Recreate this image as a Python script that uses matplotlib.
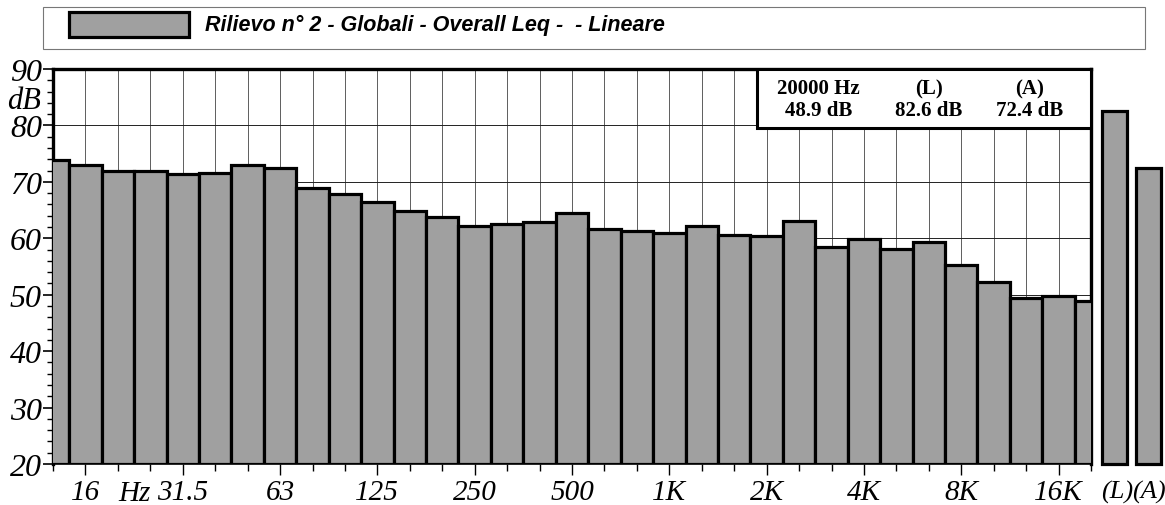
import numpy as np
import matplotlib
matplotlib.use("Agg")
import matplotlib.pyplot as plt
from matplotlib.patches import Rectangle

# third-octave bands 12.5 Hz .. 20 kHz, levels in dB
bands = ["12.5", "16", "20", "25", "31.5", "40", "50", "63", "80", "100",
         "125", "160", "200", "250", "315", "400", "500", "630", "800", "1K",
         "1.25K", "1.6K", "2K", "2.5K", "3.15K", "4K", "5K", "6.3K", "8K", "10K",
         "12.5K", "16K", "20K"]
levels = [73.9, 73.0, 72.0, 72.0, 71.4, 71.6, 73.0, 72.4, 69.0, 67.8,
          66.5, 64.8, 63.8, 62.2, 62.5, 62.9, 64.4, 61.6, 61.3, 60.9,
          62.1, 60.6, 60.4, 63.0, 58.4, 59.9, 58.1, 59.4, 55.3, 52.2,
          49.5, 49.8, 48.9]
totals_labels = ["(L)", "(A)"]
totals = [82.6, 72.4]

tick_labels = ["16", "31.5", "63", "125", "250", "500", "1K", "2K", "4K", "8K", "16K"]
title = "Rilievo n\u00b0 2 - Globali - Overall Leq -  - Lineare"

W, H = 1165, 506
fig = plt.figure(figsize=(W / 100, H / 100), dpi=100)
fig.patch.set_facecolor("white")

# axes in pixel coordinates
x0, x1, ytop, ybot = 53, 1091, 70, 465
ax = fig.add_axes([x0 / W, 1 - ybot / H, (x1 - x0) / W, (ybot - ytop) / H])

barcolor = "#a0a0a0"
serif = "Liberation Serif"

x = np.arange(len(levels))
ax.bar(x, np.array(levels) - 20, width=1.0, bottom=20, color=barcolor,
       edgecolor="black", linewidth=2.3, zorder=3)

# totals, drawn right of the spectrum
tx = [32.72, 33.78]
ax.bar(tx, np.array(totals) - 20, width=0.78, bottom=20, color=barcolor,
       edgecolor="black", linewidth=2.3, zorder=3, clip_on=False)

ax.set_xlim(0, 32)
ax.set_ylim(20, 90)

# grid
for xi in range(1, 32):
    ax.axvline(xi, color="#444444", lw=0.6, zorder=1)
for yi in range(30, 90, 10):
    ax.axhline(yi, color="#222222", lw=0.7, zorder=1)

for side in ["left", "top", "right"]:
    ax.spines[side].set_linewidth(2.4)
ax.spines["bottom"].set_linewidth(1.2)

# y ticks
ax.set_yticks(np.arange(20, 91, 10))
ax.set_yticks(np.arange(20, 91, 2), minor=True)
ylabels = [str(v) for v in range(20, 91, 10)]
ax.set_yticklabels(ylabels, fontfamily=serif, fontstyle="italic", fontsize=23)
ax.tick_params(axis="y", which="major", length=7, width=1.2, pad=1)
ax.tick_params(axis="y", which="minor", length=4, width=1)
ax.text(-0.012, 84.5, "dB", transform=ax.get_yaxis_transform(), ha="right",
        va="center", fontfamily=serif, fontstyle="italic", fontsize=22)

# x ticks
ax.set_xticks([1, 4, 7, 10, 13, 16, 19, 22, 25, 28, 31])
ax.set_xticklabels(tick_labels, fontfamily=serif, fontstyle="italic", fontsize=21)
ax.set_xticks(np.arange(0, 33), minor=True)
ax.tick_params(axis="x", which="major", length=8, width=1, pad=3)
ax.tick_params(axis="x", which="minor", length=5, width=1)
xtrans = ax.get_xaxis_transform()
ax.text(2.5, -0.04, "Hz", transform=xtrans, ha="center", va="top",
        fontfamily=serif, fontstyle="italic", fontsize=21)
for xt, lab in zip([32.8, 33.78], totals_labels):
    ax.text(xt, -0.04, lab, transform=xtrans, ha="center", va="top",
            fontfamily=serif, fontstyle="italic", fontsize=19, clip_on=False)

# info box
bx0 = 21.7
ax.add_patch(Rectangle((bx0, 79.6), 32 - bx0, 10.4, facecolor="white",
                       edgecolor="black", lw=2.2, zorder=5))
info = [("20000 Hz", "%.1f dB" % levels[-1], 23.6),
        ("(L)", "%.1f dB" % totals[0], 27.0),
        ("(A)", "%.1f dB" % totals[1], 30.1)]
for head, val, xc in info:
    ax.text(xc, 86.6, head, ha="center", va="center", fontfamily=serif,
            fontweight="bold", fontsize=15, zorder=6)
    ax.text(xc, 82.7, val, ha="center", va="center", fontfamily=serif,
            fontweight="bold", fontsize=15, zorder=6)

# legend strip at top
fig.add_artist(Rectangle((43 / W, 1 - 50 / H), (1145 - 43) / W, 42 / H,
                         transform=fig.transFigure, facecolor="white",
                         edgecolor="#777777", lw=0.8))
fig.add_artist(Rectangle((69 / W, 1 - 38 / H), 120 / W, 25 / H,
                         transform=fig.transFigure, facecolor=barcolor,
                         edgecolor="black", lw=2.3))
fig.text(205 / W, 1 - 25 / H, title, ha="left", va="center",
         fontfamily="Liberation Sans", fontweight="bold", fontstyle="italic",
         fontsize=15.5)

fig.savefig("out.png", dpi=100)
